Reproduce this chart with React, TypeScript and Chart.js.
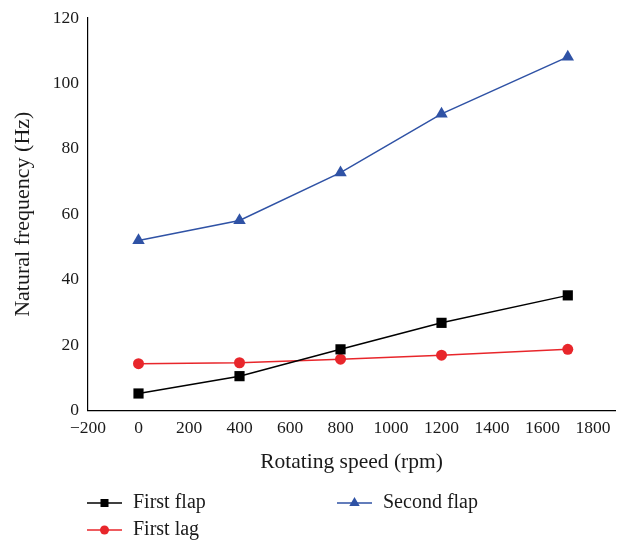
import React, { useEffect, useRef } from "react";
import { Chart, registerables } from "chart.js";

Chart.register(...registerables);

const speeds = [0, 400, 800, 1200, 1700];
const firstFlap = [5.2, 10.5, 18.7, 26.8, 35.2];
const firstLag = [14.3, 14.6, 15.7, 16.9, 18.7];
const secondFlap = [52, 58.1, 72.7, 90.7, 108.1];
const xTicks = [-200, 0, 200, 400, 600, 800, 1000, 1200, 1400, 1600, 1800];
const yTicks = [0, 20, 40, 60, 80, 100, 120];

const FONT = "'Liberation Serif', 'DejaVu Serif', serif";

type Series = { label: string; data: number[]; color: string; point: string; radius: number };

const series: Series[] = [
  { label: "First flap", data: firstFlap, color: "#000000", point: "rect", radius: 7.2 },
  { label: "First lag", data: firstLag, color: "#e8262b", point: "circle", radius: 5.5 },
  { label: "Second flap", data: secondFlap, color: "#2f52a5", point: "triangle", radius: 7.2 },
];

const legendPos = [
  { x: 87, y: 503 },
  { x: 87, y: 530 },
  { x: 337, y: 503 },
];

function drawMarker(ctx: CanvasRenderingContext2D, kind: string, x: number, y: number, color: string) {
  ctx.fillStyle = color;
  ctx.beginPath();
  if (kind === "rect") {
    ctx.rect(x - 4, y - 4, 8, 8);
  } else if (kind === "circle") {
    ctx.arc(x, y, 4.5, 0, Math.PI * 2);
  } else {
    const r = 6;
    ctx.moveTo(x, y - r);
    ctx.lineTo(x + r * 0.866, y + r * 0.5);
    ctx.lineTo(x - r * 0.866, y + r * 0.5);
    ctx.closePath();
  }
  ctx.fill();
}

const legendPlugin = {
  id: "customLegend",
  afterDraw(chart: any) {
    const ctx = chart.ctx as CanvasRenderingContext2D;
    ctx.save();
    series.forEach((s, i) => {
      const p = legendPos[i];
      ctx.strokeStyle = s.color;
      ctx.lineWidth = 1.3;
      ctx.beginPath();
      ctx.moveTo(p.x, p.y);
      ctx.lineTo(p.x + 35, p.y);
      ctx.stroke();
      drawMarker(ctx, s.point, p.x + 17.5, p.y, s.color);
      ctx.fillStyle = "#1a1a1a";
      ctx.font = `20px ${FONT}`;
      ctx.textBaseline = "middle";
      ctx.textAlign = "left";
      ctx.fillText(s.label, p.x + 46, p.y);
    });
    ctx.restore();
  },
};

export default function App() {
  const ref = useRef<HTMLCanvasElement>(null);
  useEffect(() => {
    document.body.style.margin = "0";
    const canvas = ref.current!;
    const chart = new Chart(canvas, {
      type: "line",
      data: {
        datasets: series.map((s) => ({
          label: s.label,
          data: speeds.map((x, i) => ({ x, y: s.data[i] })),
          borderColor: s.color,
          backgroundColor: s.color,
          borderWidth: 1.5,
          pointStyle: s.point as any,
          pointRadius: s.radius,
          pointHoverRadius: s.radius,
          pointBorderWidth: 0,
          tension: 0,
          clip: false as any,
        })),
      },
      options: {
        responsive: false,
        animation: false,
        events: [],
        layout: { autoPadding: false, padding: { left: 0, right: 2, top: 0, bottom: 0 } },
        plugins: { legend: { display: false }, tooltip: { enabled: false } },
        scales: {
          x: {
            type: "linear",
            min: -200,
            max: 1887,
            afterBuildTicks: (scale: any) => {
              scale.ticks = xTicks.map((v) => ({ value: v }));
            },
            afterFit: (scale: any) => {
              scale.height = 544 - 410.5;
              scale.paddingRight = 0;
              scale.paddingLeft = 0;
            },
            grid: { display: false, drawTicks: false },
            border: { display: true, color: "#000", width: 1.2 },
            ticks: {
              padding: 7,
              color: "#1a1a1a",
              font: { family: FONT, size: 17.5 },
              maxRotation: 0,
              autoSkip: false,
              callback: (v: any) => (Number(v) < 0 ? "\u2212" + Math.abs(Number(v)) : String(v)),
            },
            title: {
              display: true,
              text: "Rotating speed (rpm)",
              color: "#1a1a1a",
              font: { family: FONT, size: 21.5 },
              padding: { top: 0, bottom: 69 },
            },
          },
          y: {
            type: "linear",
            min: 0,
            max: 120,
            afterBuildTicks: (scale: any) => {
              scale.ticks = yTicks.map((v) => ({ value: v }));
            },
            afterFit: (scale: any) => {
              scale.width = 88;
              scale.paddingTop = 18;
              scale.paddingBottom = 0;
            },
            grid: { display: false, drawTicks: false },
            border: { display: true, color: "#000", width: 1.2 },
            ticks: {
              padding: 9,
              color: "#1a1a1a",
              font: { family: FONT, size: 17.5 },
            },
            title: {
              display: true,
              text: "Natural frequency (Hz)",
              color: "#1a1a1a",
              font: { family: FONT, size: 22 },
              padding: { top: 10, bottom: 0 },
            },
          },
        },
      },
      plugins: [legendPlugin],
    });
    return () => chart.destroy();
  }, []);
  return (
    <div style={{ width: 617, height: 544, background: "#fff" }}>
      <canvas ref={ref} width={617} height={544} style={{ display: "block" }} />
    </div>
  );
}
